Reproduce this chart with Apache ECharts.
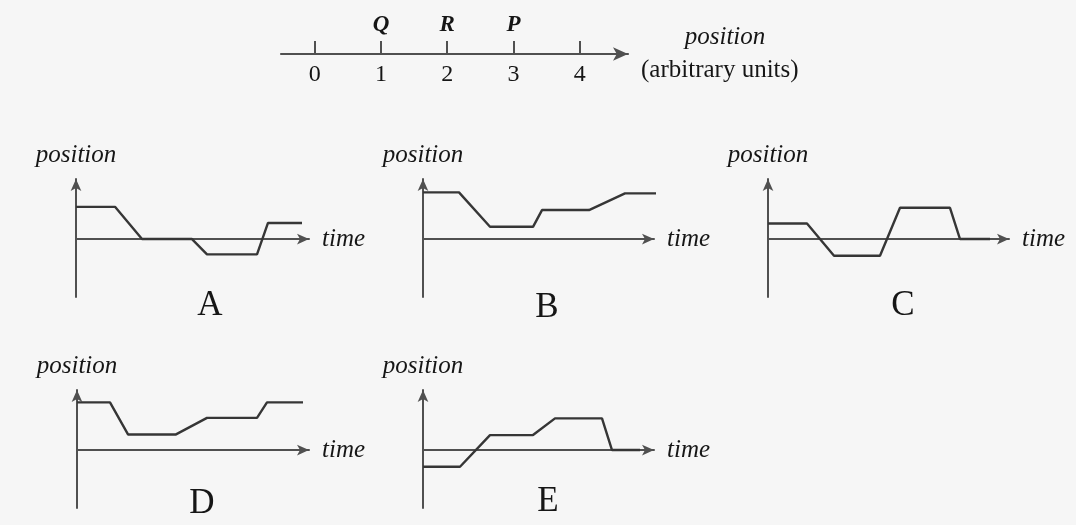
<!DOCTYPE html>
<html>
<head>
<meta charset="utf-8">
<script src="https://cdn.jsdelivr.net/npm/echarts@6/dist/echarts.min.js"></script>
<style>
  html, body { margin: 0; padding: 0; background: #f6f6f6; }
  #chart { width: 1076px; height: 525px; }
</style>
</head>
<body>
<div id="chart"></div>
<script>
// number line
const tickValues = [0, 1, 2, 3, 4];
const pointNames = ['Q', 'R', 'P'];
const pointValues = [1, 2, 3];

// position-time graphs
const panelNames = ['A', 'B', 'C', 'D', 'E'];
const timeA = [0, 3.9, 6.6, 11.6, 13.1, 18.1, 19.2, 22.6];
const posA = [2, 2, 0, 0, -0.95, -0.95, 1, 1];
const timeB = [0, 3.6, 6.7, 11.0, 11.9, 16.6, 20.2, 24.1];
const posB = [2.9, 2.9, 0.76, 0.76, 1.8, 1.8, 2.84, 2.84];
const timeC = [0, 3.9, 6.6, 11.2, 13.2, 18.2, 19.2, 22.2];
const posC = [0.97, 0.97, -1.04, -1.04, 1.94, 1.94, 0, 0];
const timeD = [0, 3.3, 5.1, 9.9, 13.0, 18.0, 19.0, 22.6];
const posD = [2.96, 2.96, 0.97, 0.97, 2, 2, 2.96, 2.96];
const timeE = [0, 3.7, 6.7, 11.0, 13.2, 17.9, 18.9, 21.7];
const posE = [-1.04, -1.04, 0.93, 0.93, 1.97, 1.97, 0, 0];

const times = [timeA, timeB, timeC, timeD, timeE];
const positions = [posA, posB, posC, posD, posE];

// layout of each small graph (axis origin at left / y = 0)
const boxes = [
  { left: 76, top: 179, width: 233, lx: 205, ly: 302 },
  { left: 423, top: 179, width: 231, lx: 542, ly: 304 },
  { left: 768, top: 179, width: 241, lx: 898, ly: 302 },
  { left: 77, top: 390, width: 232, lx: 197, ly: 500 },
  { left: 423, top: 390, width: 231, lx: 543, ly: 498 }
];

const serif = "'Liberation Serif', 'Times New Roman', serif";
const axisColor = '#505050';
const curveColor = '#363636';
const textColor = '#161616';

const grid = [{ left: 281, top: 20, width: 347, height: 34 }];
const xAxis = [{
  gridIndex: 0, type: 'value', min: -0.51, max: 4.73,
  axisLine: { show: true, symbol: ['none', 'arrow'], symbolSize: [10, 15], lineStyle: { color: axisColor, width: 2.2 } },
  axisTick: { show: true, inside: true, length: 13, customValues: tickValues, lineStyle: { color: axisColor, width: 2 } },
  axisLabel: { show: true, margin: 9, customValues: tickValues, fontFamily: serif, fontSize: 24, color: textColor },
  splitLine: { show: false },
  name: '{i|position}\n{n|(arbitrary units)}',
  nameLocation: 'end', nameGap: 13,
  nameTextStyle: {
    rich: {
      i: { fontFamily: serif, fontStyle: 'italic', fontSize: 25, color: textColor, width: 168, align: 'center', lineHeight: 33 },
      n: { fontFamily: serif, fontSize: 25, color: textColor, lineHeight: 33 }
    }
  }
}];
const yAxis = [{ gridIndex: 0, type: 'value', min: 0, max: 1, show: false }];
const series = [{
  type: 'scatter', xAxisIndex: 0, yAxisIndex: 0,
  symbolSize: 0, itemStyle: { color: textColor, opacity: 1 },
  data: pointValues.map((v, i) => ({ name: pointNames[i], value: [v, 0] })),
  label: {
    show: true, position: 'top', distance: 17, formatter: '{b}',
    fontFamily: serif, fontStyle: 'italic', fontWeight: 'bold', fontSize: 23, color: textColor
  }
}];
const title = [];

boxes.forEach((b, k) => {
  const gi = k + 1;
  grid.push({ left: b.left, top: b.top, width: b.width, height: 118 });
  xAxis.push({
    gridIndex: gi, type: 'value', min: 0, max: b.width / 10,
    axisLine: { show: true, onZero: true, symbol: ['none', 'arrow'], symbolSize: [8, 12], lineStyle: { color: axisColor, width: 2 } },
    axisTick: { show: false }, axisLabel: { show: false }, splitLine: { show: false },
    name: 'time', nameLocation: 'end', nameGap: 13,
    nameTextStyle: { fontFamily: serif, fontStyle: 'italic', fontSize: 25, color: textColor }
  });
  yAxis.push({
    gridIndex: gi, type: 'value', min: -3.6, max: 3.73,
    axisLine: { show: true, symbol: ['none', 'arrow'], symbolSize: [8, 12], lineStyle: { color: axisColor, width: 2 } },
    axisTick: { show: false }, axisLabel: { show: false }, splitLine: { show: false },
    name: 'position', nameLocation: 'end', nameGap: 11,
    nameTextStyle: { fontFamily: serif, fontStyle: 'italic', fontSize: 25, color: textColor, align: 'center' }
  });
  series.push({
    type: 'line', xAxisIndex: gi, yAxisIndex: gi, clip: false,
    symbol: 'none', smooth: false,
    lineStyle: { color: curveColor, width: 2.4 },
    data: times[k].map((t, i) => [t, positions[k][i]])
  });
  title.push({
    text: panelNames[k], left: b.lx, top: b.ly - 19, textAlign: 'center',
    textStyle: { fontFamily: serif, fontSize: 35, fontWeight: 'normal', color: textColor }
  });
});

const chart = echarts.init(document.getElementById('chart'));
chart.setOption({
  backgroundColor: '#f6f6f6',
  animation: false,
  title: title,
  grid: grid,
  xAxis: xAxis,
  yAxis: yAxis,
  series: series
});
</script>
</body>
</html>
